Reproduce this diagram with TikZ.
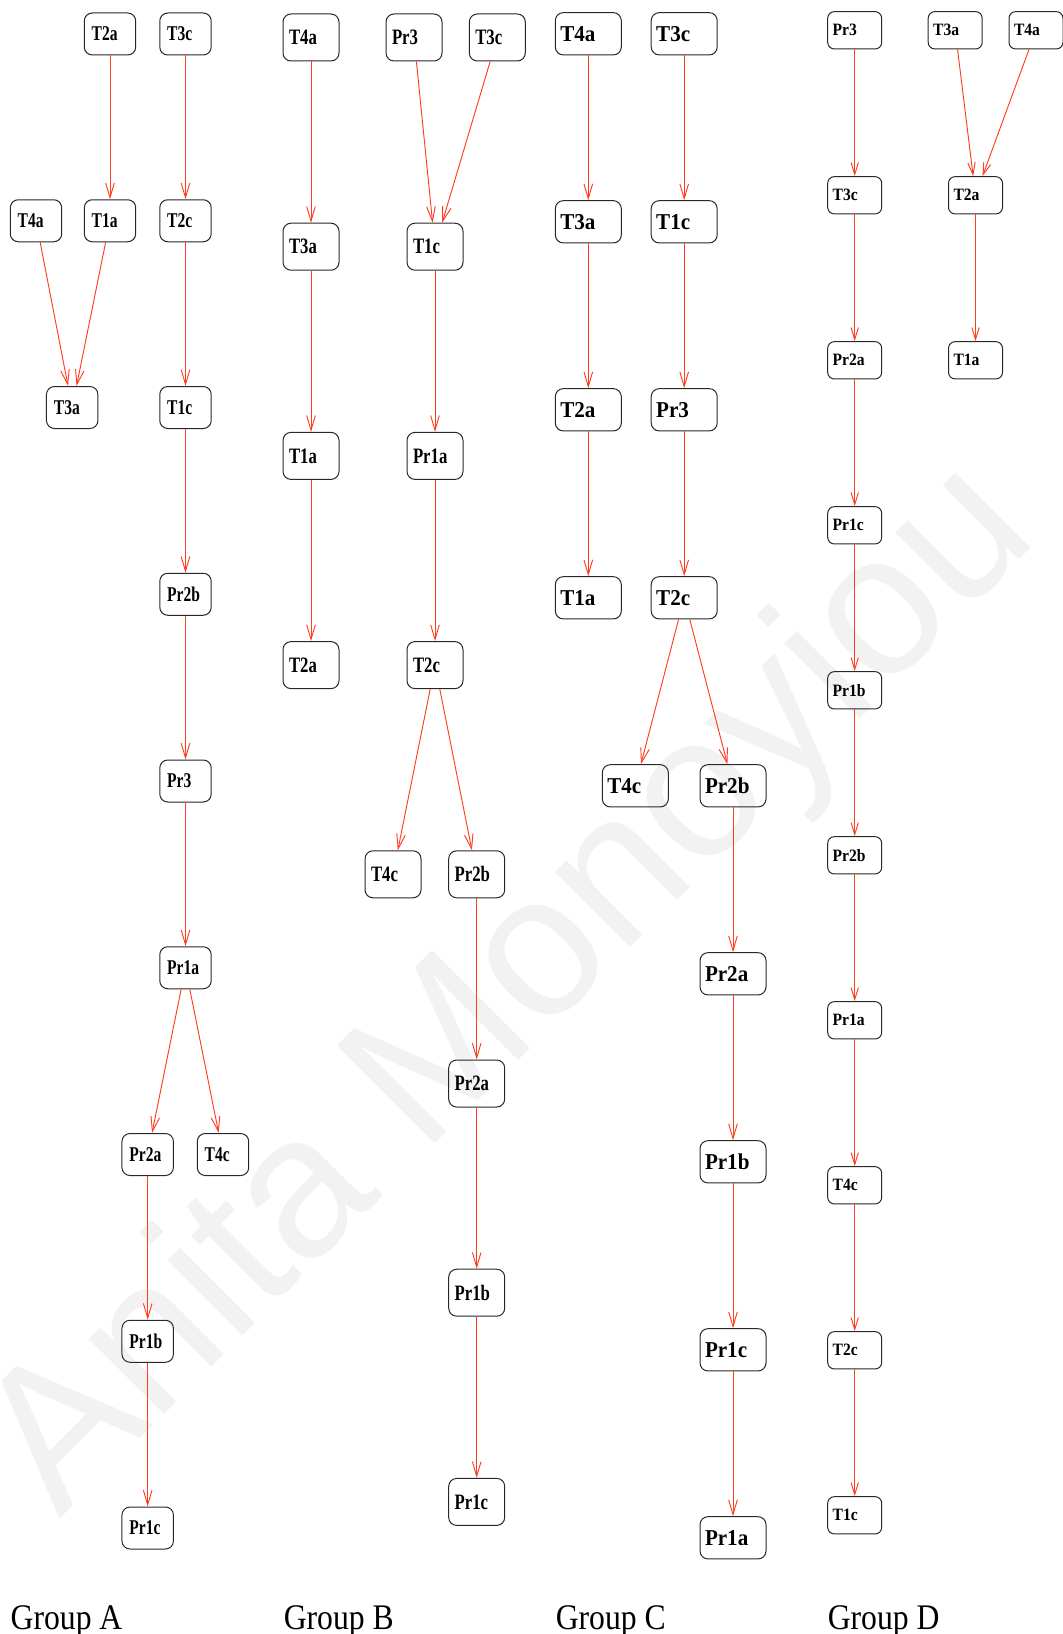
\documentclass[tikz,border=0pt]{standalone}
\usepackage{fontspec}
\setmainfont{Liberation Serif}
\newfontfamily\fontA[FakeStretch=0.74]{Liberation Serif}
\newfontfamily\fontB[FakeStretch=0.76]{Liberation Serif}
\newfontfamily\fontC[FakeStretch=0.93]{Liberation Serif}
\newfontfamily\fontD[FakeStretch=0.90]{Liberation Serif}
\newfontfamily\fontG[FakeStretch=0.88]{Liberation Serif}
\newfontfamily\fontW{Liberation Sans}
\usetikzlibrary{arrows.meta}
\definecolor{edgered}{RGB}{255,60,30}
\definecolor{boxline}{RGB}{40,40,40}
\definecolor{wmark}{RGB}{242,242,242}

\begin{document}
\begin{tikzpicture}[x=0.75pt,y=-0.75pt,
  box/.style={draw=boxline, line width=0.75pt, rounded corners=6pt, inner ysep=0pt, align=left},
  boxA/.style={box, minimum height=31.5pt, text width=27.4pt, inner xsep=5.6pt,
    font=\fontA\fontsize{15.75}{16}\selectfont\bfseries},
  boxB/.style={box, minimum height=35.25pt, text width=33pt, inner xsep=4.5pt,
    font=\fontB\fontsize{16.5}{17}\selectfont\bfseries},
  boxC/.style={box, minimum height=31.7pt, text width=42pt, inner xsep=3.75pt,
    font=\fontC\fontsize{17}{18}\selectfont\bfseries},
  boxD/.style={box, minimum height=28pt, text width=33pt, inner xsep=3.75pt, rounded corners=5pt,
    font=\fontD\fontsize{13}{14}\selectfont\bfseries},
  link/.style={draw=edgered, line width=0.7pt, -{Straight Barb[length=11pt,width=6.5pt]}},
  linkD/.style={link, -{Straight Barb[length=9pt,width=5.5pt]}},
  grouplabel/.style={anchor=base west, inner sep=0pt, font=\fontG\fontsize{27}{30}\selectfont},
]
\useasboundingbox (0,0) rectangle (1063,1634);

% faint watermark behind everything
\node[rotate=45, text=wmark, inner sep=0pt, font=\fontW\fontsize{151}{155}\selectfont] (wm) at (513,992) {Anita Monoyiou};

% ---------------- Group A ----------------
\node[boxA] (aT2a) at (110,34) {T2a};
\node[boxA] (aT3c) at (185.5,34) {T3c};
\node[boxA] (aT4a) at (36,220.75) {T4a};
\node[boxA] (aT1a) at (110,220.75) {T1a};
\node[boxA] (aT2c) at (185.5,220.75) {T2c};
\node[boxA] (aT3a) at (72.2,407.5) {T3a};
\node[boxA] (aT1c) at (185.5,407.5) {T1c};
\node[boxA] (aPr2b) at (185.5,594.25) {Pr2b};
\node[boxA] (aPr3) at (185.5,781) {Pr3};
\node[boxA] (aPr1a) at (185.5,967.75) {Pr1a};
\node[boxA] (aPr2a) at (147.7,1154.5) {Pr2a};
\node[boxA] (aT4c) at (223,1154.5) {T4c};
\node[boxA] (aPr1b) at (147.7,1341.25) {Pr1b};
\node[boxA] (aPr1c) at (147.7,1528) {Pr1c};

\draw[link] (aT2a) -- (aT1a);
\draw[link] (aT3c) -- (aT2c);
\draw[link] (aT4a) -- (aT3a);
\draw[link] (aT1a) -- (aT3a);
\draw[link] (aT2c) -- (aT1c);
\draw[link] (aT1c) -- (aPr2b);
\draw[link] (aPr2b) -- (aPr3);
\draw[link] (aPr3) -- (aPr1a);
\draw[link] (aPr1a) -- (aPr2a);
\draw[link] (aPr1a) -- (aT4c);
\draw[link] (aPr2a) -- (aPr1b);
\draw[link] (aPr1b) -- (aPr1c);

% ---------------- Group B ----------------
\node[boxB] (bT4a) at (311,37.5) {T4a};
\node[boxB] (bPr3) at (414,37.5) {Pr3};
\node[boxB] (bT3c) at (497.3,37.5) {T3c};
\node[boxB] (bT3a) at (311,246.7) {T3a};
\node[boxB] (bT1c) at (435,246.7) {T1c};
\node[boxB] (bT1a) at (311,455.9) {T1a};
\node[boxB] (bPr1a) at (435,455.9) {Pr1a};
\node[boxB] (bT2a) at (311,665.1) {T2a};
\node[boxB] (bT2c) at (435,665.1) {T2c};
\node[boxB] (bT4c) at (393,874.3) {T4c};
\node[boxB] (bPr2b) at (476.7,874.3) {Pr2b};
\node[boxB] (bPr2a) at (476.7,1083.5) {Pr2a};
\node[boxB] (bPr1b) at (476.7,1292.7) {Pr1b};
\node[boxB] (bPr1c) at (476.7,1501.9) {Pr1c};

\draw[link] (bT4a) -- (bT3a);
\draw[link] (bT3a) -- (bT1a);
\draw[link] (bT1a) -- (bT2a);
\draw[link] (bPr3) -- (bT1c);
\draw[link] (bT3c) -- (bT1c);
\draw[link] (bT1c) -- (bPr1a);
\draw[link] (bPr1a) -- (bT2c);
\draw[link] (bT2c) -- (bT4c);
\draw[link] (bT2c) -- (bPr2b);
\draw[link] (bPr2b) -- (bPr2a);
\draw[link] (bPr2a) -- (bPr1b);
\draw[link] (bPr1b) -- (bPr1c);

% ---------------- Group C ----------------
\node[boxC] (cT4a) at (588.3,33.8) {T4a};
\node[boxC] (cT3c) at (684.2,33.8) {T3c};
\node[boxC] (cT3a) at (588.3,221.8) {T3a};
\node[boxC] (cT1c) at (684.2,221.8) {T1c};
\node[boxC] (cT2a) at (588.3,409.8) {T2a};
\node[boxC] (cPr3) at (684.2,409.8) {Pr3};
\node[boxC] (cT1a) at (588.3,597.8) {T1a};
\node[boxC] (cT2c) at (684.2,597.8) {T2c};
\node[boxC] (cT4c) at (635.3,785.8) {T4c};
\node[boxC] (cPr2b) at (733,785.8) {Pr2b};
\node[boxC] (cPr2a) at (733,973.8) {Pr2a};
\node[boxC] (cPr1b) at (733,1161.8) {Pr1b};
\node[boxC] (cPr1c) at (733,1349.8) {Pr1c};
\node[boxC] (cPr1a) at (733,1537.8) {Pr1a};

\draw[link] (cT4a) -- (cT3a);
\draw[link] (cT3a) -- (cT2a);
\draw[link] (cT2a) -- (cT1a);
\draw[link] (cT3c) -- (cT1c);
\draw[link] (cT1c) -- (cPr3);
\draw[link] (cPr3) -- (cT2c);
\draw[link] (cT2c) -- (cT4c);
\draw[link] (cT2c) -- (cPr2b);
\draw[link] (cPr2b) -- (cPr2a);
\draw[link] (cPr2a) -- (cPr1b);
\draw[link] (cPr1b) -- (cPr1c);
\draw[link] (cPr1c) -- (cPr1a);

% ---------------- Group D ----------------
\node[boxD] (dPr3) at (854.7,30.3) {Pr3};
\node[boxD] (dT3a) at (955.2,30.3) {T3a};
\node[boxD] (dT4a) at (1036,30.3) {T4a};
\node[boxD] (dT3c) at (854.7,195.3) {T3c};
\node[boxD] (dT2a) at (975.5,195.3) {T2a};
\node[boxD] (dPr2a) at (854.7,360.3) {Pr2a};
\node[boxD] (dT1a) at (975.5,360.3) {T1a};
\node[boxD] (dPr1c) at (854.7,525.3) {Pr1c};
\node[boxD] (dPr1b) at (854.7,690.3) {Pr1b};
\node[boxD] (dPr2b) at (854.7,855.3) {Pr2b};
\node[boxD] (dPr1a) at (854.7,1020.3) {Pr1a};
\node[boxD] (dT4c) at (854.7,1185.3) {T4c};
\node[boxD] (dT2c) at (854.7,1350.3) {T2c};
\node[boxD] (dT1c) at (854.7,1515.3) {T1c};

\draw[linkD] (dPr3) -- (dT3c);
\draw[linkD] (dT3c) -- (dPr2a);
\draw[linkD] (dPr2a) -- (dPr1c);
\draw[linkD] (dPr1c) -- (dPr1b);
\draw[linkD] (dPr1b) -- (dPr2b);
\draw[linkD] (dPr2b) -- (dPr1a);
\draw[linkD] (dPr1a) -- (dT4c);
\draw[linkD] (dT4c) -- (dT2c);
\draw[linkD] (dT2c) -- (dT1c);
\draw[linkD] (dT3a) -- (dT2a);
\draw[linkD] (dT4a) -- (dT2a);
\draw[linkD] (dT2a) -- (dT1a);

% ---------------- captions ----------------
\node[grouplabel] (labA) at (10.4,1629) {Group A};
\node[grouplabel] (labB) at (283.5,1629) {Group B};
\node[grouplabel] (labC) at (555.5,1629) {Group C};
\node[grouplabel] (labD) at (827.5,1629) {Group D};
\end{tikzpicture}
\end{document}
